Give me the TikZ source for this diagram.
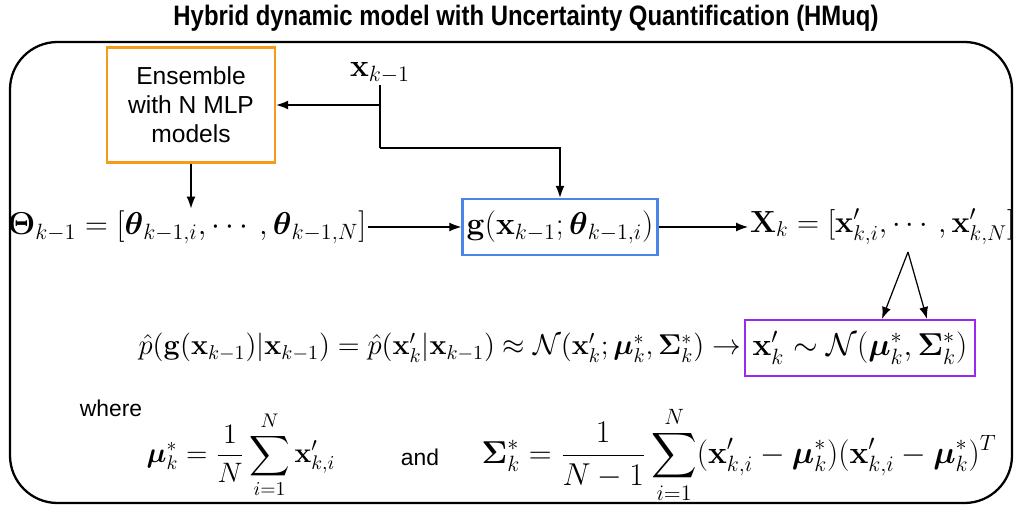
\RequirePackage{fix-cm}
\documentclass[tikz,border=0pt]{standalone}
\usepackage{amsmath,amssymb}
\usepackage[no-math]{fontspec}
\setsansfont{Liberation Sans}
\newfontfamily\narrowsans[FakeStretch=0.85]{Liberation Sans}
\usetikzlibrary{arrows.meta}
\definecolor{ensorange}{RGB}{245,155,25}
\definecolor{gblue}{RGB}{74,134,232}
\definecolor{distpurple}{RGB}{153,40,240}
\tikzset{
  frame/.style={draw=black, line width=1.3pt, rounded corners=0.95cm},
  modelbox/.style={draw, line width=1.4pt, inner sep=0pt},
  boxlabel/.style={font=\sffamily\fontsize{14}{16.5}\selectfont, align=center},
  titlelabel/.style={font=\narrowsans\bfseries\fontsize{16}{19}\selectfont},
  wordlabel/.style={font=\sffamily\fontsize{13}{16}\selectfont},
  eqlabel/.style={font=\fontsize{18}{22}\selectfont, inner sep=1pt},
  lineeq/.style={font=\fontsize{16.3}{20}\selectfont, inner sep=1pt},
  conn/.style={line width=0.7pt, -{Latex[length=2.4mm,width=1.8mm]}},
  wire/.style={line width=0.7pt},
}

\begin{document}
\begin{tikzpicture}
\useasboundingbox (0,0) rectangle (20.340,10.240);
\node[titlelabel] (title) at (10.520,9.880) {Hybrid dynamic model with Uncertainty Quantification (HMuq)};
\draw[frame] (0.200,0.180) rectangle (20.240,9.400);
\node[modelbox, boxlabel, draw=ensorange, minimum width=3.360cm, minimum height=2.300cm] (ens) at (3.820,8.140) {Ensemble\\with N MLP\\models};
\node[eqlabel] (xprev) at (7.600,8.780) {$\mathbf{x}_{k-1}$};
\node[eqlabel] (theta) at (3.740,5.700) {$\mathbf{\Theta}_{k-1} = [\boldsymbol{\theta}_{k-1,i}, \cdots, \boldsymbol{\theta}_{k-1,N}]$};
\node[modelbox, eqlabel, draw=gblue, minimum width=3.900cm, minimum height=1.120cm] (g) at (11.200,5.700) {$\mathbf{g}(\mathbf{x}_{k-1}; \boldsymbol{\theta}_{k-1,i})$};
\node[eqlabel, font=\fontsize{17.4}{21}\selectfont, anchor=west] (Xk) at (14.960,5.700) {$\mathbf{X}_k = [\mathbf{x}'_{k,i}, \cdots, \mathbf{x}'_{k,N}]$};
\node[lineeq, anchor=east] (phat) at (14.860,3.280) {$\hat{p}(\mathbf{g}(\mathbf{x}_{k-1})|\mathbf{x}_{k-1}) = \hat{p}(\mathbf{x}'_k|\mathbf{x}_{k-1}) \approx \mathcal{N}(\mathbf{x}'_k; \boldsymbol{\mu}^*_k, \mathbf{\Sigma}^*_k) \rightarrow$};
\node[modelbox, eqlabel, draw=distpurple, minimum width=4.600cm, minimum height=1.120cm] (dist) at (17.200,3.280) {$\mathbf{x}'_k \sim \mathcal{N}(\boldsymbol{\mu}^*_k, \mathbf{\Sigma}^*_k)$};
\node[wordlabel] (where) at (2.220,2.080) {where};
\node[lineeq, font=\fontsize{16}{20}\selectfont] (mu) at (4.820,1.140) {$\displaystyle \boldsymbol{\mu}^*_k = \frac{1}{N}\sum_{i=1}^{N} \mathbf{x}'_{k,i}$};
\node[wordlabel] (and) at (8.400,1.100) {and};
\node[eqlabel] (sigma) at (14.780,1.140) {$\displaystyle \mathbf{\Sigma}^*_k = \frac{1}{N-1}\sum_{i=1}^{N} (\mathbf{x}'_{k,i} - \boldsymbol{\mu}^*_k)(\mathbf{x}'_{k,i} - \boldsymbol{\mu}^*_k)^T$};
\coordinate (split) at (7.600,8.140);
\coordinate (turn) at (7.600,7.280);
\coordinate (apex) at (18.160,5.200);
\coordinate (mutip) at (17.640,3.860);
\coordinate (sigtip) at (18.540,3.860);
\draw[wire] (xprev.south) -- (turn);
\draw[conn] (turn) -| (g.north);
\draw[conn] (split) -- (ens.east);
\draw[conn] (ens.south) -- (ens.south |- theta.north);
\draw[conn] (theta.east) -- (g.west);
\draw[conn] (g.east) -- (Xk.west);
\draw[conn] (apex) -- (mutip);
\draw[conn] (apex) -- (sigtip);
\end{tikzpicture}
\end{document}
